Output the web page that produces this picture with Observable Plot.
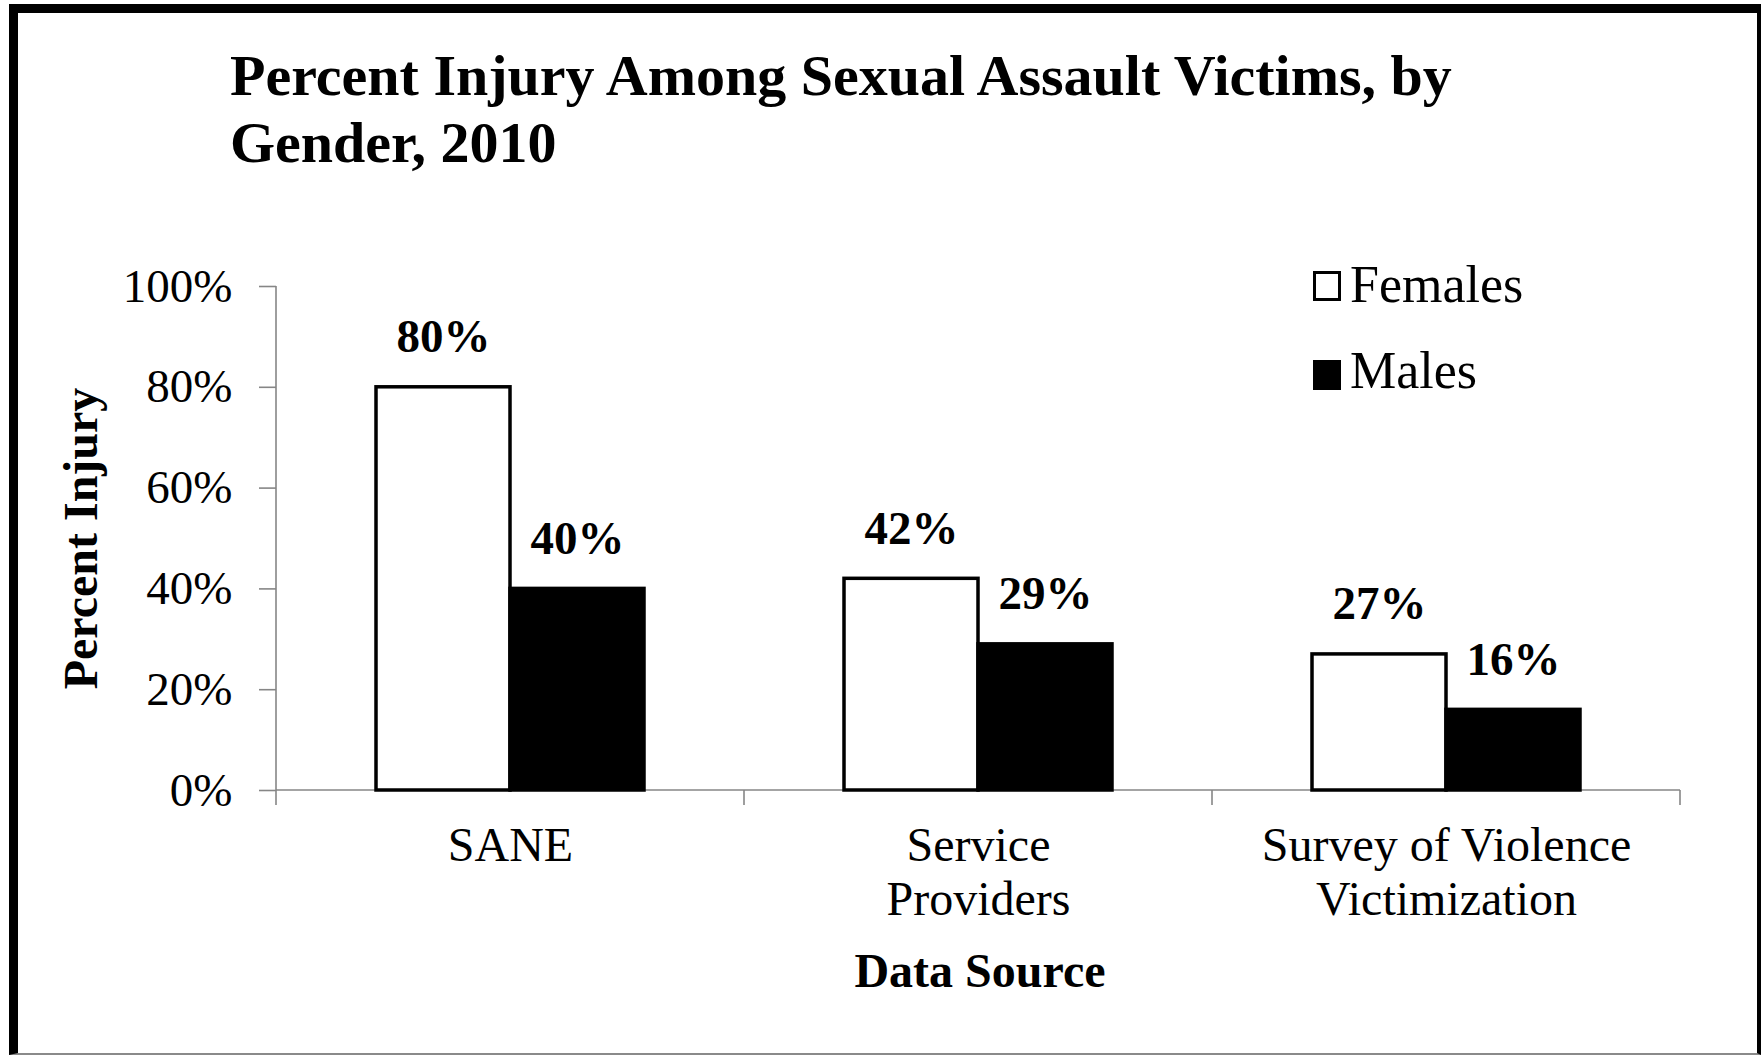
<!DOCTYPE html>
<html>
<head>
<meta charset="utf-8">
<script src="https://cdn.jsdelivr.net/npm/d3@7"></script>
<script src="https://cdn.jsdelivr.net/npm/@observablehq/plot@0.6"></script>
<style>
  html, body { margin: 0; padding: 0; background: #fff; }
  #page { position: relative; width: 1762px; height: 1056px; overflow: hidden; background: #fff;
          font-family: "Liberation Serif", "Times New Roman", serif; color: #000; }
  #frame { position: absolute; left: 9px; top: 4px; right: 1px; bottom: 1px; box-sizing: border-box;
           border-left: 9px solid #000; border-top: 9px solid #000; border-right: 4px solid #000;
           border-bottom: 2px solid #8a8a8a; pointer-events: none; }
  #title { position: absolute; left: 230px; top: 42px; font-size: 58px; font-weight: bold; line-height: 67px; white-space: nowrap; }
  #chart { position: absolute; left: 0; top: 180px; }
  .legend-item { position: absolute; left: 1350px; font-size: 52px; line-height: 60px; white-space: nowrap; }
  .swatch { position: absolute; left: 1313px; width: 28px; height: 30px; box-sizing: border-box; border: 3px solid #000; }
  #xlabel { position: absolute; left: 780px; width: 400px; top: 943px; text-align: center; font-size: 48px; font-weight: bold; line-height: 56px; }
</style>
</head>
<body>
<div id="page">
  <div id="title">Percent Injury Among Sexual Assault Victims, by<br>Gender, 2010</div>
  <div id="chart"></div>
  <div class="swatch" style="top:271px;background:#fff"></div>
  <div class="legend-item" style="top:255px">Females</div>
  <div class="swatch" style="top:360px;background:#000"></div>
  <div class="legend-item" style="top:341px">Males</div>
  <div id="xlabel">Data Source</div>
  <div id="frame"></div>
</div>
<script>
// ---- data ----
const categories = ["SANE", "Service Providers", "Survey of Violence Victimization"];
const categoryLabels = ["SANE", "Service\nProviders", "Survey of Violence\nVictimization"];
const genders = ["Females", "Males"];
const genderColors = ["#ffffff", "#000000"];
const females = [80, 42, 27];
const males = [40, 29, 16];
const yTicks = [0, 20, 40, 60, 80, 100];
const yTickLabels = ["0%", "20%", "40%", "60%", "80%", "100%"];
const yLabel = "Percent Injury";

const rows = categories.flatMap((c, i) => [
  {category: c, gender: genders[0], value: females[i]},
  {category: c, gender: genders[1], value: males[i]}
]);

const axisGray = "#868686";

// axis domain lines and category boundary ticks, computed from Plot's scales
const axisLines = Plot.frame({
  facet: "super",
  render(index, scales) {
    const {fx, y} = scales;
    const bw = fx.bandwidth();
    const edges = [...categories.map(c => fx(c)), fx(categories[categories.length - 1]) + bw];
    const y0 = y(0), yTop = y(yTicks[yTicks.length - 1]);
    const g = d3.create("svg:g").attr("stroke", axisGray).attr("stroke-width", 1.6).attr("fill", "none");
    g.append("line").attr("x1", edges[0]).attr("x2", edges[0]).attr("y1", yTop).attr("y2", y0);
    g.append("line").attr("x1", edges[0]).attr("x2", edges[edges.length - 1]).attr("y1", y0).attr("y2", y0);
    for (const e of edges) g.append("line").attr("x1", e).attr("x2", e).attr("y1", y0).attr("y2", y0 + 15);
    return g.node();
  }
});

const chart = Plot.plot({
  width: 1762,
  height: 760,
  marginTop: 106,
  marginBottom: 150,
  marginLeft: 275,
  marginRight: 82,
  style: {fontFamily: '"Liberation Serif", "Times New Roman", serif', background: "transparent", color: "#000", overflow: "visible"},
  fx: {domain: categories, padding: 0},
  x: {domain: genders, paddingInner: 0, paddingOuter: 0.74, axis: null},
  y: {domain: [0, 100]},
  color: {domain: genders, range: genderColors},
  marks: [
    axisLines,
    Plot.axisY({
      ticks: yTicks,
      tickFormat: d => yTickLabels[yTicks.indexOf(d)],
      tickSize: 17,
      tickPadding: 27,
      fontSize: 47,
      stroke: axisGray,
      strokeWidth: 1.6,
      label: null
    }),
    Plot.axisFx({
      anchor: "bottom",
      tickSize: 0,
      tickPadding: 32,
      fontSize: 48,
      lineHeight: 1.13,
      tickFormat: d => categoryLabels[categories.indexOf(d)],
      label: null
    }),
    Plot.text([yLabel], {
      facet: "super",
      frameAnchor: "left",
      textAnchor: "middle",
      rotate: -90,
      dx: -195,
      fontSize: 48,
      fontWeight: "bold"
    }),
    Plot.barY(rows, {fx: "category", x: "gender", y: "value", fill: "gender", stroke: "#000", strokeWidth: 3.5}),
    Plot.text(rows, {fx: "category", x: "gender", y: "value", text: d => d.value + "%", dy: -50, fontSize: 47, fontWeight: "bold"})
  ]
});
document.getElementById("chart").appendChild(chart);
</script>
</body>
</html>
